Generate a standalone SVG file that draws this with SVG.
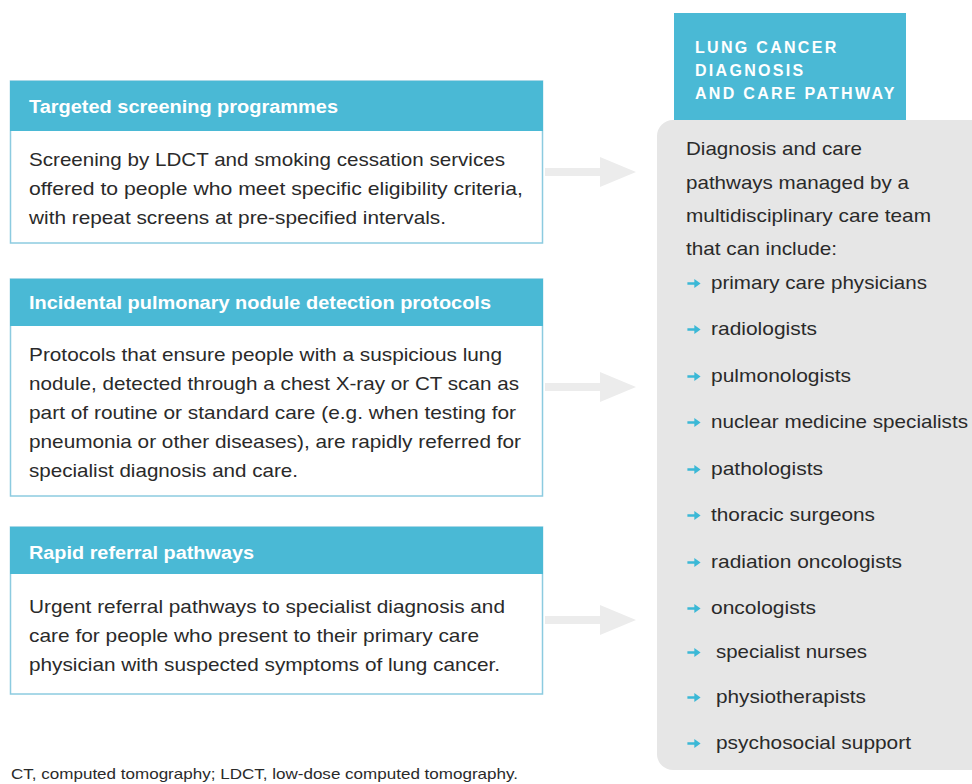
<svg xmlns="http://www.w3.org/2000/svg" width="972" height="784" viewBox="0 0 972 784">
<defs>
<style>
.hdr{fill:#4ab9d5}
.body{fill:#ffffff;stroke:#8ccbe0;stroke-width:1.5}
.ht{font-family:"Liberation Sans",Arial,sans-serif;font-weight:bold;font-size:18px;fill:#ffffff}
.bt{font-family:"Liberation Sans",Arial,sans-serif;font-size:19px;fill:#2a2a2a}
.pt{font-family:"Liberation Sans",Arial,sans-serif;font-size:19px;fill:#2a2a2a}
.tt{font-family:"Liberation Sans",Arial,sans-serif;font-weight:bold;font-size:16px;letter-spacing:2.3px;fill:#ffffff}
.fn{font-family:"Liberation Sans",Arial,sans-serif;font-size:15px;fill:#2a2a2a}
.conn{fill:#ececec}
.bul{fill:#3bb8d6}
</style>
<symbol id="b" viewBox="0 0 12 10"><path d="M0 3.8h6.3V0.8L12 5l-5.7 4.2V6.2H0z"/></symbol>
</defs>
<rect width="972" height="784" fill="#ffffff"/>

<g id="connectors">
<path class="conn" d="M545 168h55v-11l36 15-36 15v-11h-55z"/>
<path class="conn" d="M545 383h55v-11l36 15-36 15v-11h-55z"/>
<path class="conn" d="M545 616h55v-11l36 15-36 15v-11h-55z"/>
</g>

<g id="box-screening">
<rect class="body" x="10.5" y="81" width="532" height="162"/>
<rect class="hdr" x="10" y="81" width="533" height="50"/>
<text class="ht" x="29" y="113" textLength="309" lengthAdjust="spacingAndGlyphs">Targeted screening programmes</text>
<text class="bt" x="29" y="166" textLength="476" lengthAdjust="spacingAndGlyphs">Screening by LDCT and smoking cessation services</text>
<text class="bt" x="29" y="195" textLength="494" lengthAdjust="spacingAndGlyphs">offered to people who meet specific eligibility criteria,</text>
<text class="bt" x="29" y="224" textLength="417" lengthAdjust="spacingAndGlyphs">with repeat screens at pre-specified intervals.</text>
</g>

<g id="box-incidental">
<rect class="body" x="10.5" y="279" width="532" height="217"/>
<rect class="hdr" x="10" y="279" width="533" height="47"/>
<text class="ht" x="29" y="309" textLength="462" lengthAdjust="spacingAndGlyphs">Incidental pulmonary nodule detection protocols</text>
<text class="bt" x="29" y="361" textLength="473" lengthAdjust="spacingAndGlyphs">Protocols that ensure people with a suspicious lung</text>
<text class="bt" x="29" y="390" textLength="490" lengthAdjust="spacingAndGlyphs">nodule, detected through a chest X-ray or CT scan as</text>
<text class="bt" x="29" y="419" textLength="487" lengthAdjust="spacingAndGlyphs">part of routine or standard care (e.g. when testing for</text>
<text class="bt" x="29" y="448" textLength="492" lengthAdjust="spacingAndGlyphs">pneumonia or other diseases), are rapidly referred for</text>
<text class="bt" x="29" y="477" textLength="269" lengthAdjust="spacingAndGlyphs">specialist diagnosis and care.</text>
</g>

<g id="box-rapid">
<rect class="body" x="10.5" y="527" width="532" height="167"/>
<rect class="hdr" x="10" y="527" width="533" height="47"/>
<text class="ht" x="29" y="559" textLength="225" lengthAdjust="spacingAndGlyphs">Rapid referral pathways</text>
<text class="bt" x="29" y="613" textLength="476" lengthAdjust="spacingAndGlyphs">Urgent referral pathways to specialist diagnosis and</text>
<text class="bt" x="29" y="642" textLength="450" lengthAdjust="spacingAndGlyphs">care for people who present to their primary care</text>
<text class="bt" x="29" y="671" textLength="471" lengthAdjust="spacingAndGlyphs">physician with suspected symptoms of lung cancer.</text>
</g>

<g id="pathway">
<rect x="657" y="120" width="340" height="650" rx="16" fill="#e6e6e6"/>
<rect class="hdr" x="674" y="13" width="232" height="107"/>
<text class="tt" x="695" y="53">LUNG CANCER</text>
<text class="tt" x="695" y="76">DIAGNOSIS</text>
<text class="tt" x="695" y="99">AND CARE PATHWAY</text>
<text class="pt" x="686" y="155" textLength="176" lengthAdjust="spacingAndGlyphs">Diagnosis and care</text>
<text class="pt" x="686" y="189" textLength="223" lengthAdjust="spacingAndGlyphs">pathways managed by a</text>
<text class="pt" x="686" y="222" textLength="245" lengthAdjust="spacingAndGlyphs">multidisciplinary care team</text>
<text class="pt" x="686" y="255" textLength="151" lengthAdjust="spacingAndGlyphs">that can include:</text>
<g class="bul">
<use href="#b" x="687" y="278" width="14" height="11"/>
<use href="#b" x="687" y="324" width="14" height="11"/>
<use href="#b" x="687" y="371" width="14" height="11"/>
<use href="#b" x="687" y="417" width="14" height="11"/>
<use href="#b" x="687" y="464" width="14" height="11"/>
<use href="#b" x="687" y="510" width="14" height="11"/>
<use href="#b" x="687" y="557" width="14" height="11"/>
<use href="#b" x="687" y="603" width="14" height="11"/>
<use href="#b" x="687" y="647" width="14" height="11"/>
<use href="#b" x="687" y="692" width="14" height="11"/>
<use href="#b" x="687" y="738" width="14" height="11"/>
</g>
<text class="pt" x="711" y="289" textLength="216" lengthAdjust="spacingAndGlyphs">primary care physicians</text>
<text class="pt" x="711" y="335" textLength="106" lengthAdjust="spacingAndGlyphs">radiologists</text>
<text class="pt" x="711" y="382" textLength="140" lengthAdjust="spacingAndGlyphs">pulmonologists</text>
<text class="pt" x="711" y="428" textLength="257" lengthAdjust="spacingAndGlyphs">nuclear medicine specialists</text>
<text class="pt" x="711" y="475" textLength="112" lengthAdjust="spacingAndGlyphs">pathologists</text>
<text class="pt" x="711" y="521" textLength="164" lengthAdjust="spacingAndGlyphs">thoracic surgeons</text>
<text class="pt" x="711" y="568" textLength="191" lengthAdjust="spacingAndGlyphs">radiation oncologists</text>
<text class="pt" x="711" y="614" textLength="105" lengthAdjust="spacingAndGlyphs">oncologists</text>
<text class="pt" x="716" y="658" textLength="151" lengthAdjust="spacingAndGlyphs">specialist nurses</text>
<text class="pt" x="716" y="703" textLength="150" lengthAdjust="spacingAndGlyphs">physiotherapists</text>
<text class="pt" x="716" y="749" textLength="195" lengthAdjust="spacingAndGlyphs">psychosocial support</text>
</g>

<text class="fn" x="11" y="779" textLength="507" lengthAdjust="spacingAndGlyphs">CT, computed tomography; LDCT, low-dose computed tomography.</text>
</svg>
